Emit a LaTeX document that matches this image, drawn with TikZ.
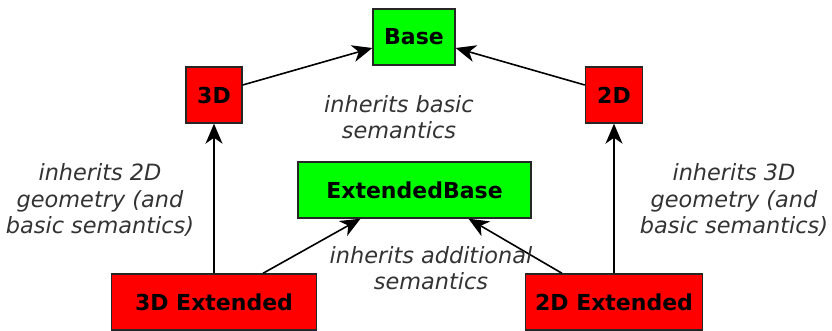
\documentclass[tikz,border=0pt]{standalone}
\usepackage{fontspec}
\setmainfont{DejaVu Sans}
\usetikzlibrary{arrows.meta}

\tikzset{
  box/.style={draw=black!85, line width=1.4pt, minimum height=56pt, inner sep=0pt,
    font=\bfseries\fontsize{22}{26}\selectfont},
  base box/.style={box, fill=green},
  dim box/.style={box, fill=red},
  note/.style={align=center, text=black!80, font=\itshape\fontsize{22.4}{26.5}\selectfont},
  link/.style={-{Stealth[length=20pt,width=17pt,inset=6pt]}, line width=1.6pt}
}

\begin{document}
\begin{tikzpicture}[x=1pt, y=1pt]
\useasboundingbox (0,0) rectangle (832,330);

% boxes
\node[base box, minimum width=82pt] (base) at (414, 293) {Base};
\node[dim box, minimum width=56pt] (d3) at (214, 235) {3D};
\node[dim box, minimum width=57pt] (d2) at (614, 235) {2D};
\node[base box, minimum width=233pt] (extbase) at (414.5, 140) {ExtendedBase};
\node[dim box, minimum width=205pt] (d3ext) at (214, 28) {3D Extended};
\node[dim box, minimum width=177pt] (d2ext) at (614, 28) {2D Extended};

% inheritance
\draw[link] ([yshift=10pt]d3.east) -- ([yshift=-11pt]base.west);
\draw[link] ([yshift=10pt]d2.west) -- ([yshift=-11pt]base.east);
\draw[link] (d3ext) -- (d3);
\draw[link] (d2ext) -- (d2);
\draw[link] ([xshift=49pt]d3ext.north) -- ([xshift=-54pt]extbase.south);
\draw[link] ([xshift=-52pt]d2ext.north) -- ([xshift=54pt]extbase.south);

% notes
\node[note] (basicnote) at (399, 213) {inherits basic\\semantics};
\node[note] (leftnote) at (100, 130) {inherits 2D\\geometry (and\\basic semantics)};
\node[note] (rightnote) at (734, 130) {inherits 3D\\geometry (and\\basic semantics)};
\node[note] (extnote) at (431, 62) {inherits additional\\semantics};
\end{tikzpicture}
\end{document}
